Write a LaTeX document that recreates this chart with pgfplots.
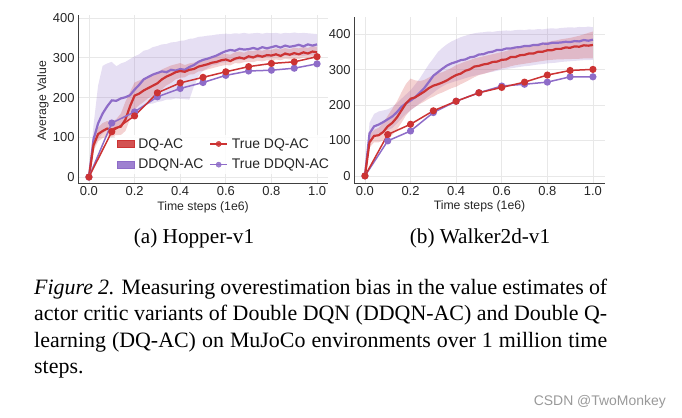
\documentclass[border=0pt]{standalone}
\usepackage{fontspec}
\setmainfont{Liberation Sans}
\newfontfamily\serifcap{Liberation Serif}
\usepackage{pgfplots}
\usepackage{pgfplotstable}
\pgfplotsset{compat=1.18}
\usepgfplotslibrary{fillbetween}
\definecolor{dqred}{RGB}{204,51,51}
\definecolor{ddpurp}{RGB}{142,108,200}

% Hopper DQ-AC: t mean lo hi
\pgfplotstableread{
t m lo hi
0.00 0 0 0
0.02 80 65 95
0.04 108 90 125
0.06 116 98 136
0.08 122 103 141
0.10 119 100 138
0.12 124 104 146
0.14 127 106 160
0.16 145 116 190
0.18 178 146 214
0.20 205 170 238
0.22 210 181 243
0.24 218 189 248
0.26 224 199 253
0.28 230 204 257
0.30 236 213 262
0.32 246 221 271
0.34 253 231 276
0.36 258 237 281
0.38 264 246 284
0.40 267 250 287
0.42 265 251 282
0.44 270 258 286
0.46 272 259 288
0.48 278 266 292
0.50 281 267 296
0.52 284 271 298
0.54 288 274 302
0.56 290 277 304
0.58 294 280 309
0.60 296 282 310
0.62 292 281 308
0.64 298 287 314
0.66 301 286 316
0.68 298 289 313
0.70 304 290 318
0.72 301 289 317
0.74 306 293 320
0.76 303 291 318
0.78 307 294 322
0.80 306 293 320
0.82 309 296 324
0.84 305 294 321
0.86 311 298 325
0.88 308 296 322
0.90 312 298 326
0.92 309 297 324
0.94 314 301 328
0.96 311 300 325
0.98 316 302 330
1.00 314 302 328
}\hDQ

% Hopper DDQN-AC
\pgfplotstableread{
t m lo hi
0.00 0 0 0
0.02 95 70 130
0.04 135 95 230
0.06 160 110 280
0.08 178 118 286
0.10 193 121 290
0.12 192 125 279
0.14 198 131 286
0.16 201 139 290
0.18 206 151 297
0.20 220 160 304
0.22 232 171 309
0.24 246 177 318
0.26 252 184 321
0.28 258 185 327
0.30 262 189 330
0.32 266 191 334
0.34 264 195 335
0.36 270 195 339
0.38 268 198 340
0.40 272 197 343
0.42 270 196 344
0.44 277 195 348
0.46 282 228 349
0.48 290 254 353
0.50 295 268 354
0.52 298 274 356
0.54 302 281 357
0.56 306 283 359
0.58 312 288 360
0.60 317 289 361
0.62 320 292 360
0.64 318 293 362
0.66 323 295 361
0.68 321 296 363
0.70 322 297 361
0.72 325 299 362
0.74 322 300 363
0.76 327 301 361
0.78 324 302 363
0.80 327 302 362
0.82 330 304 363
0.84 326 303 361
0.86 331 305 363
0.88 328 304 362
0.90 330 305 364
0.92 333 306 362
0.94 329 305 363
0.96 334 307 362
0.98 331 306 361
1.00 334 308 360
}\hDD

\pgfplotstableread{
t v
0.0 0
0.1 114
0.2 154
0.3 212
0.4 237
0.5 251
0.6 265
0.7 278
0.8 286
0.9 290
1.0 303
}\hTDQ

\pgfplotstableread{
t v
0.0 0
0.1 136
0.2 164
0.3 202
0.4 223
0.5 238
0.6 256
0.7 267
0.8 269
0.9 274
1.0 285
}\hTDD

% Walker DQ-AC
\pgfplotstableread{
t m lo hi
0.00 0 0 0
0.02 95 80 115
0.04 113 95 130
0.06 115 95 136
0.08 124 100 150
0.10 140 105 170
0.12 150 116 190
0.14 165 131 210
0.16 185 150 236
0.18 205 171 260
0.20 218 186 275
0.22 222 195 270
0.24 230 203 268
0.26 238 210 271
0.28 248 218 278
0.30 255 224 285
0.32 259 231 290
0.34 264 236 293
0.36 270 242 299
0.38 278 248 305
0.40 285 252 313
0.42 289 259 318
0.44 297 265 323
0.46 301 272 327
0.48 309 279 332
0.50 311 285 335
0.52 315 288 338
0.54 317 292 341
0.56 322 296 344
0.58 323 300 347
0.60 328 304 350
0.62 329 306 353
0.64 336 310 357
0.66 336 313 360
0.68 341 315 362
0.70 342 317 365
0.72 346 319 368
0.74 346 321 371
0.76 351 323 374
0.78 351 325 376
0.80 355 327 378
0.82 355 328 381
0.84 359 329 383
0.86 359 329 386
0.88 363 330 388
0.90 362 330 390
0.92 366 331 393
0.94 365 331 396
0.96 369 332 400
0.98 368 332 404
1.00 370 332 408
}\wDQ

% Walker DDQN-AC
\pgfplotstableread{
t m lo hi
0.00 0 0 0
0.02 120 95 150
0.04 140 115 175
0.06 145 120 182
0.08 152 125 185
0.10 160 130 188
0.12 168 135 195
0.14 180 148 205
0.16 195 162 218
0.18 205 175 230
0.20 213 185 242
0.22 222 195 258
0.24 235 205 275
0.26 248 215 295
0.28 265 225 315
0.30 283 235 332
0.32 293 245 350
0.34 303 253 362
0.36 312 260 372
0.38 318 264 380
0.40 322 268 386
0.42 327 272 392
0.44 329 276 396
0.46 335 280 400
0.48 337 283 403
0.50 343 286 405
0.52 344 289 406
0.54 349 292 408
0.56 351 294 407
0.58 356 297 409
0.60 356 300 410
0.62 360 302 411
0.64 360 304 410
0.66 363 306 412
0.68 364 308 413
0.70 367 310 412
0.72 367 311 414
0.74 370 313 413
0.76 370 315 415
0.78 374 316 414
0.80 373 318 416
0.82 376 319 417
0.84 376 320 416
0.86 377 322 418
0.88 379 323 419
0.90 378 324 420
0.92 381 325 419
0.94 380 326 421
0.96 384 327 420
0.98 382 327 422
1.00 385 328 420
}\wDD

\pgfplotstableread{
t v
0.0 0
0.1 117
0.2 146
0.3 184
0.4 211
0.5 235
0.6 250
0.7 265
0.8 285
0.9 298
1.0 301
}\wTDQ

\pgfplotstableread{
t v
0.0 0
0.1 99
0.2 127
0.3 179
0.4 211
0.5 235
0.6 254
0.7 259
0.8 265
0.9 280
1.0 280
}\wTDD

\pgfplotsset{
  myaxis/.style={
    scale only axis,
    anchor=south west,
    xmin=-0.048,
    axis x line*=bottom,
    axis y line*=left,
    axis line style={-, draw=black!75, line width=1bp},
    major tick length=0pt,
    grid=major,
    grid style={draw=black!9, line width=0.8bp},
    xtick={0,0.2,0.4,0.6,0.8,1.0},
    xticklabels={0.0,0.2,0.4,0.6,0.8,1.0},
    ytick={0,100,200,300,400},
    yticklabels={0,100,200,300,400},
    tick label style={font=\fontsize{13}{15}\selectfont, text=black!85},
    xlabel={Time steps (1e6)},
    label style={font=\fontsize{12.3}{14}\selectfont, text=black!85},
    xlabel style={at={(axis description cs:0.5,-0.143)}, anchor=center},
  },
  meanline/.style={line width=2.2bp, forget plot},
  trueline/.style={line width=1.5bp, mark=*, mark size=2.8bp, forget plot},
}

\begin{document}
\begin{tikzpicture}

% ---------------- Hopper ----------------
\begin{axis}[myaxis,
  at={(78bp,-183bp)},
  width=250bp, height=168bp,
  xmax=1.048, ymin=-15, ymax=408,
  ylabel={Average Value},
  ylabel style={at={(axis description cs:-0.14,0.49)}, anchor=center},
  legend columns=2,
  legend cell align={left},
  legend style={at={(0.147,0.288)}, anchor=north west, draw=none,
    fill=white, fill opacity=0.85, text opacity=1, inner sep=2bp,
    font=\fontsize{14}{16}\selectfont, row sep=6.5bp,
    nodes={inner sep=1.5bp, text=black!85},
    /tikz/every odd column/.append style={column sep=2.5bp},
    /tikz/every even column/.append style={column sep=4.5bp}},
]
\addplot[name path=hddlo, draw=none, forget plot] table[x=t,y=lo]{\hDD};
\addplot[name path=hddhi, draw=none, forget plot] table[x=t,y=hi]{\hDD};
\addplot[ddpurp, fill opacity=0.22, draw=none, forget plot] fill between[of=hddlo and hddhi];
\addplot[name path=hdqlo, draw=none, forget plot] table[x=t,y=lo]{\hDQ};
\addplot[name path=hdqhi, draw=none, forget plot] table[x=t,y=hi]{\hDQ};
\addplot[dqred, fill opacity=0.22, draw=none, forget plot] fill between[of=hdqlo and hdqhi];
\addplot[ddpurp, meanline] table[x=t,y=m]{\hDD};
\addplot[dqred, meanline] table[x=t,y=m]{\hDQ};
\addplot[ddpurp, trueline] table[x=t,y=v]{\hTDD};
\addplot[dqred, trueline] table[x=t,y=v]{\hTDQ};

\addlegendimage{legend image code/.code={\fill[dqred] (0bp,-3.5bp) rectangle (17bp,3.5bp);}}
\addlegendentry{DQ-AC}
\addlegendimage{legend image code/.code={\draw[dqred, line width=1.5bp] (0bp,0bp) -- (17bp,0bp); \fill[dqred] (8.5bp,0bp) circle (2.6bp);}}
\addlegendentry{True DQ-AC}
\addlegendimage{legend image code/.code={\fill[ddpurp] (0bp,-3.5bp) rectangle (17bp,3.5bp);}}
\addlegendentry{DDQN-AC}
\addlegendimage{legend image code/.code={\draw[ddpurp, line width=1.5bp] (0bp,0bp) -- (17bp,0bp); \fill[ddpurp] (8.5bp,0bp) circle (2.6bp);}}
\addlegendentry{True DDQN-AC}
\end{axis}

% ---------------- Walker ----------------
\begin{axis}[myaxis,
  at={(354bp,-183bp)},
  width=251bp, height=166bp,
  xmax=1.053, ymin=-20, ymax=449,
]
\addplot[name path=wddlo, draw=none, forget plot] table[x=t,y=lo]{\wDD};
\addplot[name path=wddhi, draw=none, forget plot] table[x=t,y=hi]{\wDD};
\addplot[ddpurp, fill opacity=0.22, draw=none, forget plot] fill between[of=wddlo and wddhi];
\addplot[name path=wdqlo, draw=none, forget plot] table[x=t,y=lo]{\wDQ};
\addplot[name path=wdqhi, draw=none, forget plot] table[x=t,y=hi]{\wDQ};
\addplot[dqred, fill opacity=0.22, draw=none, forget plot] fill between[of=wdqlo and wdqhi];
\addplot[ddpurp, meanline] table[x=t,y=m]{\wDD};
\addplot[dqred, meanline] table[x=t,y=m]{\wDQ};
\addplot[ddpurp, trueline] table[x=t,y=v]{\wTDD};
\addplot[dqred, trueline] table[x=t,y=v]{\wTDQ};
\end{axis}

% ---------------- captions ----------------
\node[anchor=base, inner sep=0] at (194bp,-243bp) {\serifcap\fontsize{21.3}{24}\selectfont (a) Hopper-v1};
\node[anchor=base, inner sep=0] at (480bp,-243bp) {\serifcap\fontsize{21.3}{24}\selectfont (b) Walker2d-v1};
\node[anchor=base west, inner sep=0] at (34bp,-294bp) {\parbox[t]{573bp}{\serifcap\fontsize{22}{26.7}\selectfont
\textit{Figure 2.} Measuring overestimation bias in the value estimates of\linebreak
actor critic variants of Double DQN (DDQN-AC) and Double Q-\linebreak
learning (DQ-AC) on MuJoCo environments over 1 million time\linebreak
steps.}};
\node[anchor=base east, inner sep=0, text=black!40] at (666bp,-405bp) {\fontsize{14}{16}\selectfont CSDN @TwoMonkey};

\pgfresetboundingbox
\path[use as bounding box] (0,0) rectangle (682bp,-418bp);
\end{tikzpicture}
\end{document}
